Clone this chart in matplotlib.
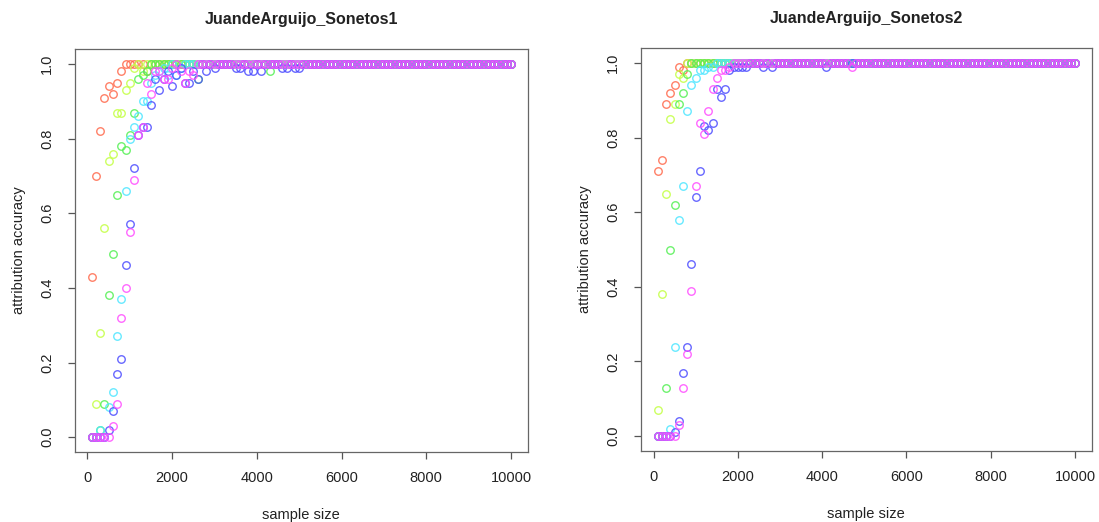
import matplotlib
matplotlib.use("Agg")
import matplotlib.pyplot as plt

plt.rcParams["font.family"] = ["Liberation Sans", "DejaVu Sans"]

# sample sizes 100, 200, ..., 10000
sample_size = list(range(100, 10001, 100))

titles = ["JuandeArguijo_Sonetos1", "JuandeArguijo_Sonetos2"]
x_ticks = [0, 2000, 4000, 6000, 8000, 10000]
y_ticks = [0.0, 0.2, 0.4, 0.6, 0.8, 1.0]

colors = ["#ff6a4d", "#c4ff45", "#55f055", "#4de6ff", "#4d4dff", "#ff4dff"]

# --- Sonetos1 ---
s1_red = [
    0.43, 0.70, 0.82, 0.91, 0.94, 0.92, 0.95, 0.98, 1, 1, 1, 1, 1, 0.98, 1, 1, 1, 1, 1, 1,
    1, 1, 1, 1, 1, 1, 1, 1, 1, 1, 1, 1, 1, 1, 1, 1, 1, 1, 1, 1,
    1, 1, 1, 1, 1, 1, 1, 1, 1, 1, 1, 1, 1, 1, 1, 1, 1, 1, 1, 1,
    1, 1, 1, 1, 1, 1, 1, 1, 1, 1, 1, 1, 1, 1, 1, 1, 1, 1, 1, 1,
    1, 1, 1, 1, 1, 1, 1, 1, 1, 1, 1, 1, 1, 1, 1, 1, 1, 1, 1, 1,
]
s1_yellow = [
    0, 0.09, 0.28, 0.56, 0.74, 0.76, 0.87, 0.87, 0.93, 0.95, 0.99, 1, 0.98, 1, 1, 1, 1, 1, 1, 1,
    1, 1, 1, 1, 1, 1, 1, 1, 1, 1, 1, 1, 1, 1, 1, 1, 1, 1, 1, 1,
    1, 1, 1, 1, 1, 1, 1, 1, 1, 1, 1, 1, 1, 1, 1, 1, 1, 1, 1, 1,
    1, 1, 1, 1, 1, 1, 1, 1, 1, 1, 1, 1, 1, 1, 1, 1, 1, 1, 1, 1,
    1, 1, 1, 1, 1, 1, 1, 1, 1, 1, 1, 1, 1, 1, 1, 1, 1, 1, 1, 1,
]
s1_green = [
    0, 0, 0.02, 0.09, 0.38, 0.49, 0.65, 0.78, 0.77, 0.81, 0.87, 0.96, 0.97, 0.98, 1, 1, 1, 1, 1, 1,
    1, 1, 1, 1, 1, 0.96, 1, 1, 1, 1, 1, 1, 1, 1, 1, 1, 1, 1, 1, 1,
    1, 1, 0.98, 1, 1, 1, 1, 1, 1, 1, 1, 1, 1, 1, 1, 1, 1, 1, 1, 1,
    1, 1, 1, 1, 1, 1, 1, 1, 1, 1, 1, 1, 1, 1, 1, 1, 1, 1, 1, 1,
    1, 1, 1, 1, 1, 1, 1, 1, 1, 1, 1, 1, 1, 1, 1, 1, 1, 1, 1, 1,
]
s1_cyan = [
    0, 0, 0.02, 0, 0.08, 0.12, 0.27, 0.37, 0.66, 0.80, 0.83, 0.86, 0.90, 0.90, 0.95, 0.97, 0.98, 0.99, 0.97, 1,
    0.97, 0.99, 1, 1, 1, 1, 1, 1, 1, 1, 1, 1, 1, 1, 1, 1, 1, 1, 1, 1,
    1, 1, 1, 1, 1, 1, 1, 1, 1, 1, 1, 1, 1, 1, 1, 1, 1, 1, 1, 1,
    1, 1, 1, 1, 1, 1, 1, 1, 1, 1, 1, 1, 1, 1, 1, 1, 1, 1, 1, 1,
    1, 1, 1, 1, 1, 1, 1, 1, 1, 1, 1, 1, 1, 1, 1, 1, 1, 1, 1, 1,
]
s1_blue = [
    0, 0, 0, 0, 0.02, 0.07, 0.17, 0.21, 0.46, 0.57, 0.72, 0.81, 0.83, 0.83, 0.89, 0.96, 0.93, 0.96, 0.98, 0.94,
    0.97, 0.99, 0.95, 0.95, 0.98, 0.96, 1, 0.98, 1, 0.99, 1, 1, 1, 1, 0.99, 0.99, 1, 0.98, 0.98, 1,
    0.98, 1, 1, 1, 1, 0.99, 0.99, 1, 0.99, 0.99, 1, 1, 1, 1, 1, 1, 1, 1, 1, 1,
    1, 1, 1, 1, 1, 1, 1, 1, 1, 1, 1, 1, 1, 1, 1, 1, 1, 1, 1, 1,
    1, 1, 1, 1, 1, 1, 1, 1, 1, 1, 1, 1, 1, 1, 1, 1, 1, 1, 1, 1,
]
s1_magenta = [
    0, 0, 0, 0, 0, 0.03, 0.09, 0.32, 0.40, 0.55, 0.69, 0.81, 0.83, 0.95, 0.92, 0.98, 0.98, 0.96, 0.96, 0.99,
    1, 0.98, 0.95, 0.98, 0.97, 1, 1, 1, 1, 1, 1, 1, 1, 1, 1, 1, 1, 1, 1, 1,
    1, 1, 1, 1, 1, 1, 1, 1, 1, 1, 1, 1, 1, 1, 1, 1, 1, 1, 1, 1,
    1, 1, 1, 1, 1, 1, 1, 1, 1, 1, 1, 1, 1, 1, 1, 1, 1, 1, 1, 1,
    1, 1, 1, 1, 1, 1, 1, 1, 1, 1, 1, 1, 1, 1, 1, 1, 1, 1, 1, 1,
]

# --- Sonetos2 ---
s2_red = [
    0.71, 0.74, 0.89, 0.92, 0.94, 0.99, 0.98, 1, 1, 1, 1, 1, 1, 1, 1, 1, 1, 1, 1, 1,
    1, 1, 1, 1, 1, 1, 1, 1, 1, 1, 1, 1, 1, 1, 1, 1, 1, 1, 1, 1,
    1, 1, 1, 1, 1, 1, 1, 1, 1, 1, 1, 1, 1, 1, 1, 1, 1, 1, 1, 1,
    1, 1, 1, 1, 1, 1, 1, 1, 1, 1, 1, 1, 1, 1, 1, 1, 1, 1, 1, 1,
    1, 1, 1, 1, 1, 1, 1, 1, 1, 1, 1, 1, 1, 1, 1, 1, 1, 1, 1, 1,
]
s2_yellow = [
    0.07, 0.38, 0.65, 0.85, 0.89, 0.97, 0.96, 1, 1, 1, 1, 1, 1, 1, 1, 1, 1, 1, 1, 1,
    1, 1, 1, 1, 1, 1, 1, 1, 1, 1, 1, 1, 1, 1, 1, 1, 1, 1, 1, 1,
    1, 1, 1, 1, 1, 1, 1, 1, 1, 1, 1, 1, 1, 1, 1, 1, 1, 1, 1, 1,
    1, 1, 1, 1, 1, 1, 1, 1, 1, 1, 1, 1, 1, 1, 1, 1, 1, 1, 1, 1,
    1, 1, 1, 1, 1, 1, 1, 1, 1, 1, 1, 1, 1, 1, 1, 1, 1, 1, 1, 1,
]
s2_green = [
    0, 0, 0.13, 0.50, 0.62, 0.89, 0.92, 0.97, 1, 1, 1, 1, 1, 1, 1, 1, 1, 1, 1, 1,
    1, 1, 1, 1, 1, 1, 1, 1, 1, 1, 1, 1, 1, 1, 1, 1, 1, 1, 1, 1,
    1, 1, 1, 1, 1, 1, 1, 1, 1, 1, 1, 1, 1, 1, 1, 1, 1, 1, 1, 1,
    1, 1, 1, 1, 1, 1, 1, 1, 1, 1, 1, 1, 1, 1, 1, 1, 1, 1, 1, 1,
    1, 1, 1, 1, 1, 1, 1, 1, 1, 1, 1, 1, 1, 1, 1, 1, 1, 1, 1, 1,
]
s2_cyan = [
    0, 0, 0, 0.02, 0.24, 0.58, 0.67, 0.87, 0.94, 0.96, 0.98, 0.98, 0.99, 0.99, 1, 1, 1, 1, 1, 1,
    1, 1, 1, 1, 1, 1, 1, 1, 1, 1, 1, 1, 1, 1, 1, 1, 1, 1, 1, 1,
    1, 1, 1, 1, 1, 1, 1, 1, 1, 1, 1, 1, 1, 1, 1, 1, 1, 1, 1, 1,
    1, 1, 1, 1, 1, 1, 1, 1, 1, 1, 1, 1, 1, 1, 1, 1, 1, 1, 1, 1,
    1, 1, 1, 1, 1, 1, 1, 1, 1, 1, 1, 1, 1, 1, 1, 1, 1, 1, 1, 1,
]
s2_blue = [
    0, 0, 0, 0, 0.01, 0.04, 0.17, 0.24, 0.46, 0.64, 0.71, 0.83, 0.82, 0.84, 0.93, 0.91, 0.93, 0.98, 0.99, 0.99,
    0.99, 0.99, 1, 1, 1, 0.99, 1, 0.99, 1, 1, 1, 1, 1, 1, 1, 1, 1, 1, 1, 1,
    0.99, 1, 1, 1, 1, 1, 1, 1, 1, 1, 1, 1, 1, 1, 1, 1, 1, 1, 1, 1,
    1, 1, 1, 1, 1, 1, 1, 1, 1, 1, 1, 1, 1, 1, 1, 1, 1, 1, 1, 1,
    1, 1, 1, 1, 1, 1, 1, 1, 1, 1, 1, 1, 1, 1, 1, 1, 1, 1, 1, 1,
]
s2_magenta = [
    0, 0, 0, 0, 0, 0.03, 0.13, 0.22, 0.39, 0.67, 0.84, 0.81, 0.87, 0.93, 0.96, 0.98, 0.98, 0.99, 1, 1,
    1, 1, 1, 1, 1, 1, 1, 1, 1, 1, 1, 1, 1, 1, 1, 1, 1, 1, 1, 1,
    1, 1, 1, 1, 1, 1, 0.99, 1, 1, 1, 1, 1, 1, 1, 1, 1, 1, 1, 1, 1,
    1, 1, 1, 1, 1, 1, 1, 1, 1, 1, 1, 1, 1, 1, 1, 1, 1, 1, 1, 1,
    1, 1, 1, 1, 1, 1, 1, 1, 1, 1, 1, 1, 1, 1, 1, 1, 1, 1, 1, 1,
]

panels = [
    [s1_red, s1_yellow, s1_green, s1_cyan, s1_blue, s1_magenta],
    [s2_red, s2_yellow, s2_green, s2_cyan, s2_blue, s2_magenta],
]

fig = plt.figure(figsize=(10.99, 5.22), dpi=100)
boxes = [[0.0682, 0.134, 0.412, 0.772], [0.5833, 0.136, 0.410, 0.772]]

for box, title, series in zip(boxes, titles, panels):
    ax = fig.add_axes(box)
    for vals, col in zip(series, colors):
        ax.plot(sample_size, vals, linestyle="none", marker="o", markersize=5.4,
                markerfacecolor="none", markeredgecolor=col, markeredgewidth=1.0,
                alpha=0.85)
    ax.set_xlim(-296, 10396)
    ax.set_ylim(-0.04, 1.04)
    ax.set_xticks(x_ticks)
    ax.set_yticks(y_ticks)
    ax.set_xticklabels([str(t) for t in x_ticks])
    ax.set_yticklabels(["%.1f" % t for t in y_ticks], rotation=90, va="center")
    ax.tick_params(axis="both", direction="out", length=5, width=0.9,
                   color="#555555", labelsize=10.5, labelcolor="#222222")
    ax.tick_params(axis="x", pad=9)
    ax.tick_params(axis="y", pad=10)
    for sp in ax.spines.values():
        sp.set_color("#666666")
        sp.set_linewidth(0.9)
    ax.set_title(title, fontsize=11.5, fontweight="bold", pad=18, color="#222222")
    ax.set_xlabel("sample size", fontsize=10.5, labelpad=16, color="#222222")
    ax.set_ylabel("attribution accuracy", fontsize=10.5, labelpad=10, color="#222222")

fig.savefig("out.png", dpi=100)
